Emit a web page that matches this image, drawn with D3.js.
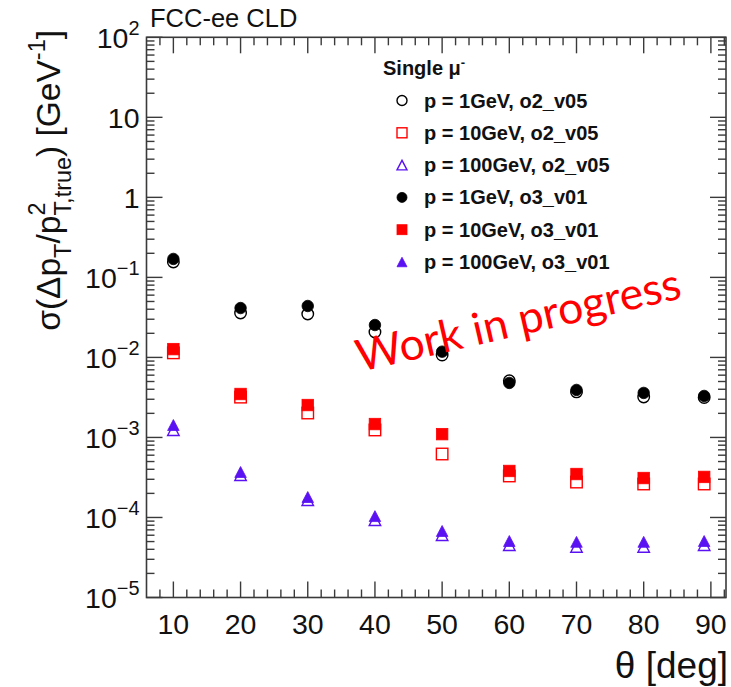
<!DOCTYPE html>
<html><head><meta charset="utf-8">
<script src="https://cdn.jsdelivr.net/npm/d3@7"></script>
<style>html,body{margin:0;padding:0;background:#fff;}svg{display:block;}</style>
</head><body>
<svg id="c" width="731" height="687"></svg>
<script>
// ---- data ----
const theta = [10, 20, 30, 40, 50, 60, 70, 80, 89];
const o2_1GeV   = [0.156, 0.0359, 0.0349, 0.0208, 0.0107, 0.0051, 0.00371, 0.00320, 0.00315];
const o2_10GeV  = [0.0114, 0.00319, 0.00202, 0.00124, 0.000621, 0.000330, 0.000277, 0.000262, 0.000262];
const o2_100GeV = [0.00124, 0.000339, 0.000165, 0.0000929, 0.0000604, 0.0000453, 0.0000430, 0.0000430, 0.0000453];
const o3_1GeV   = [0.170, 0.0414, 0.0439, 0.0254, 0.0118, 0.00480, 0.00392, 0.00360, 0.00330];
const o3_10GeV  = [0.0127, 0.00349, 0.00254, 0.00147, 0.00110, 0.000381, 0.000349, 0.000311, 0.000321];
const o3_100GeV = [0.00143, 0.000370, 0.000180, 0.000104, 0.0000678, 0.0000508, 0.0000496, 0.0000496, 0.0000508];
const xTicks = [10, 20, 30, 40, 50, 60, 70, 80, 90];
const yExponents = [2, 1, 0, -1, -2, -3, -4, -5];
const legendLabels = ["p = 1GeV, o2_v05", "p = 10GeV, o2_v05", "p = 100GeV, o2_v05",
                      "p = 1GeV, o3_v01", "p = 10GeV, o3_v01", "p = 100GeV, o3_v01"];

const RED = "#ff0000", VIO = "#5a12f2";
const series = [
  {vals: o2_1GeV,   shape: "circle",   fill: false, color: "#000"},
  {vals: o2_10GeV,  shape: "square",   fill: false, color: RED},
  {vals: o2_100GeV, shape: "triangle", fill: false, color: VIO},
  {vals: o3_1GeV,   shape: "circle",   fill: true,  color: "#000"},
  {vals: o3_10GeV,  shape: "square",   fill: true,  color: RED},
  {vals: o3_100GeV, shape: "triangle", fill: true,  color: VIO},
];

const svg = d3.select("#c");
const L = 146.5, R = 726, T = 37.3, B = 597.5;
const x = d3.scaleLinear().domain([6, 92.25]).range([L, R]);
const y = d3.scaleLog().domain([1e-5, 1e2]).range([B, T]);
const FONT = "'Liberation Sans', Arial, Helvetica, sans-serif";
const AX = "#3a3a3a";

// ---- ticks ----
const g = svg.append("g").attr("stroke", AX).attr("stroke-width", 1.4);
const majLen = 16, minLen = 8;
const xMinor = d3.range(8, 92.01, 2).filter(v => v % 10 !== 0);
xTicks.forEach(v => {
  g.append("line").attr("x1", x(v)).attr("x2", x(v)).attr("y1", B).attr("y2", B - majLen);
  g.append("line").attr("x1", x(v)).attr("x2", x(v)).attr("y1", T).attr("y2", T + majLen);
});
xMinor.forEach(v => {
  g.append("line").attr("x1", x(v)).attr("x2", x(v)).attr("y1", B).attr("y2", B - minLen);
  g.append("line").attr("x1", x(v)).attr("x2", x(v)).attr("y1", T).attr("y2", T + minLen);
});
yExponents.forEach(e => {
  const v = Math.pow(10, e);
  g.append("line").attr("x1", L).attr("x2", L + majLen).attr("y1", y(v)).attr("y2", y(v));
  g.append("line").attr("x1", R).attr("x2", R - majLen).attr("y1", y(v)).attr("y2", y(v));
  if (e < 2) {
    for (let m = 2; m <= 9; m++) {
      const vv = m * v;
      g.append("line").attr("x1", L).attr("x2", L + minLen).attr("y1", y(vv)).attr("y2", y(vv));
      g.append("line").attr("x1", R).attr("x2", R - minLen).attr("y1", y(vv)).attr("y2", y(vv));
    }
  }
});
svg.append("rect").attr("x", L).attr("y", T).attr("width", R - L).attr("height", B - T)
  .attr("fill", "none").attr("stroke", AX).attr("stroke-width", 1.6);

// ---- tick labels ----
const tfs = 28.5;
xTicks.forEach(v => {
  svg.append("text").attr("x", x(v)).attr("y", B + 36).attr("text-anchor", "middle")
    .attr("font-family", FONT).attr("font-size", tfs).attr("fill", "#111").text(v);
});
yExponents.forEach(e => {
  const t = svg.append("text").attr("x", 139.5).attr("y", y(Math.pow(10, e)) + tfs * 0.36)
    .attr("text-anchor", "end").attr("font-family", FONT).attr("font-size", tfs).attr("fill", "#111");
  if (e === 1) t.text("10");
  else if (e === 0) t.text("1");
  else {
    t.append("tspan").text("10");
    t.append("tspan").attr("font-size", tfs * 0.7).attr("dy", -tfs * 0.45)
      .text(e < 0 ? "\u2212" + (-e) : String(e));
  }
});

// ---- axis titles ----
svg.append("text").attr("x", 728).attr("y", 678).attr("text-anchor", "end")
  .attr("font-family", FONT).attr("font-size", 37).attr("fill", "#111").text("\u03b8 [deg]");

const fsT = 33.5;
const tmp = svg.append("text").attr("font-family", FONT).attr("font-size", fsT * 0.7).text("2");
const w2 = tmp.node().getComputedTextLength();
tmp.remove();
const yt = svg.append("text").attr("transform", "translate(60,30) rotate(-90)")
  .attr("text-anchor", "end").attr("font-family", FONT).attr("font-size", fsT).attr("fill", "#111");
yt.append("tspan").text("\u03c3(\u0394p");
yt.append("tspan").attr("font-size", fsT * 0.7).attr("dy", fsT * 0.32).text("T");
yt.append("tspan").attr("dy", -fsT * 0.32).text("/p");
yt.append("tspan").attr("font-size", fsT * 0.7).attr("dy", -fsT * 0.45).text("2");
yt.append("tspan").attr("font-size", fsT * 0.7).attr("dx", -w2).attr("dy", fsT * 0.77).text("T,true");
yt.append("tspan").attr("dy", -fsT * 0.32).text(") [GeV");
yt.append("tspan").attr("font-size", fsT * 0.7).attr("dy", -fsT * 0.45).text("-1");
yt.append("tspan").attr("dy", fsT * 0.45).text("]");

svg.append("text").attr("x", 150).attr("y", 27).attr("font-family", FONT)
  .attr("font-size", 25.5).attr("fill", "#111").text("FCC-ee CLD");

// ---- markers ----
function drawMarker(sel, shape, cx, cy, s, fill, color) {
  let el;
  if (shape === "circle") el = sel.append("circle").attr("cx", cx).attr("cy", cy).attr("r", s * 0.5);
  else if (shape === "square") el = sel.append("rect").attr("x", cx - s / 2).attr("y", cy - s / 2).attr("width", s).attr("height", s);
  else {
    const h = s * 0.95;
    el = sel.append("path").attr("d", `M${cx},${cy - h / 2}L${cx - s / 2},${cy + h / 2}L${cx + s / 2},${cy + h / 2}Z`);
  }
  if (fill) el.attr("fill", color).attr("stroke", color).attr("stroke-width", 0.8);
  else el.attr("fill", "none").attr("stroke", color).attr("stroke-width", 1.4);
}
const mg = svg.append("g");
series.forEach(s => {
  s.vals.forEach((v, i) => {
    drawMarker(mg, s.shape, x(theta[i]), y(v), 11.5, s.fill, s.color);
  });
});

// ---- legend ----
const lfs = 20;
svg.append("text").attr("x", 383).attr("y", 75).attr("font-family", FONT).attr("font-weight", "bold")
  .attr("font-size", lfs).attr("fill", "#111")
  .call(t => { t.append("tspan").text("Single \u03bc"); t.append("tspan").attr("font-size", 13).attr("dy", -8).text("-"); });
legendLabels.forEach((lab, i) => {
  const cy = 100.5 + i * 32.3;
  const s = series[i];
  drawMarker(svg, s.shape, 402, cy, 10, s.fill, s.color);
  svg.append("text").attr("x", 424).attr("y", cy + 7).attr("font-family", FONT).attr("font-weight", "bold")
    .attr("font-size", lfs).attr("fill", "#111").text(lab);
});

// ---- watermark ----
svg.append("text").attr("transform", "translate(360,372) rotate(-12.9)")
  .attr("font-family", "Lato, 'Open Sans', sans-serif").attr("font-size", 44.5).attr("fill", "#ff0000")
  .text("Work in progress");
</script>
</body></html>
